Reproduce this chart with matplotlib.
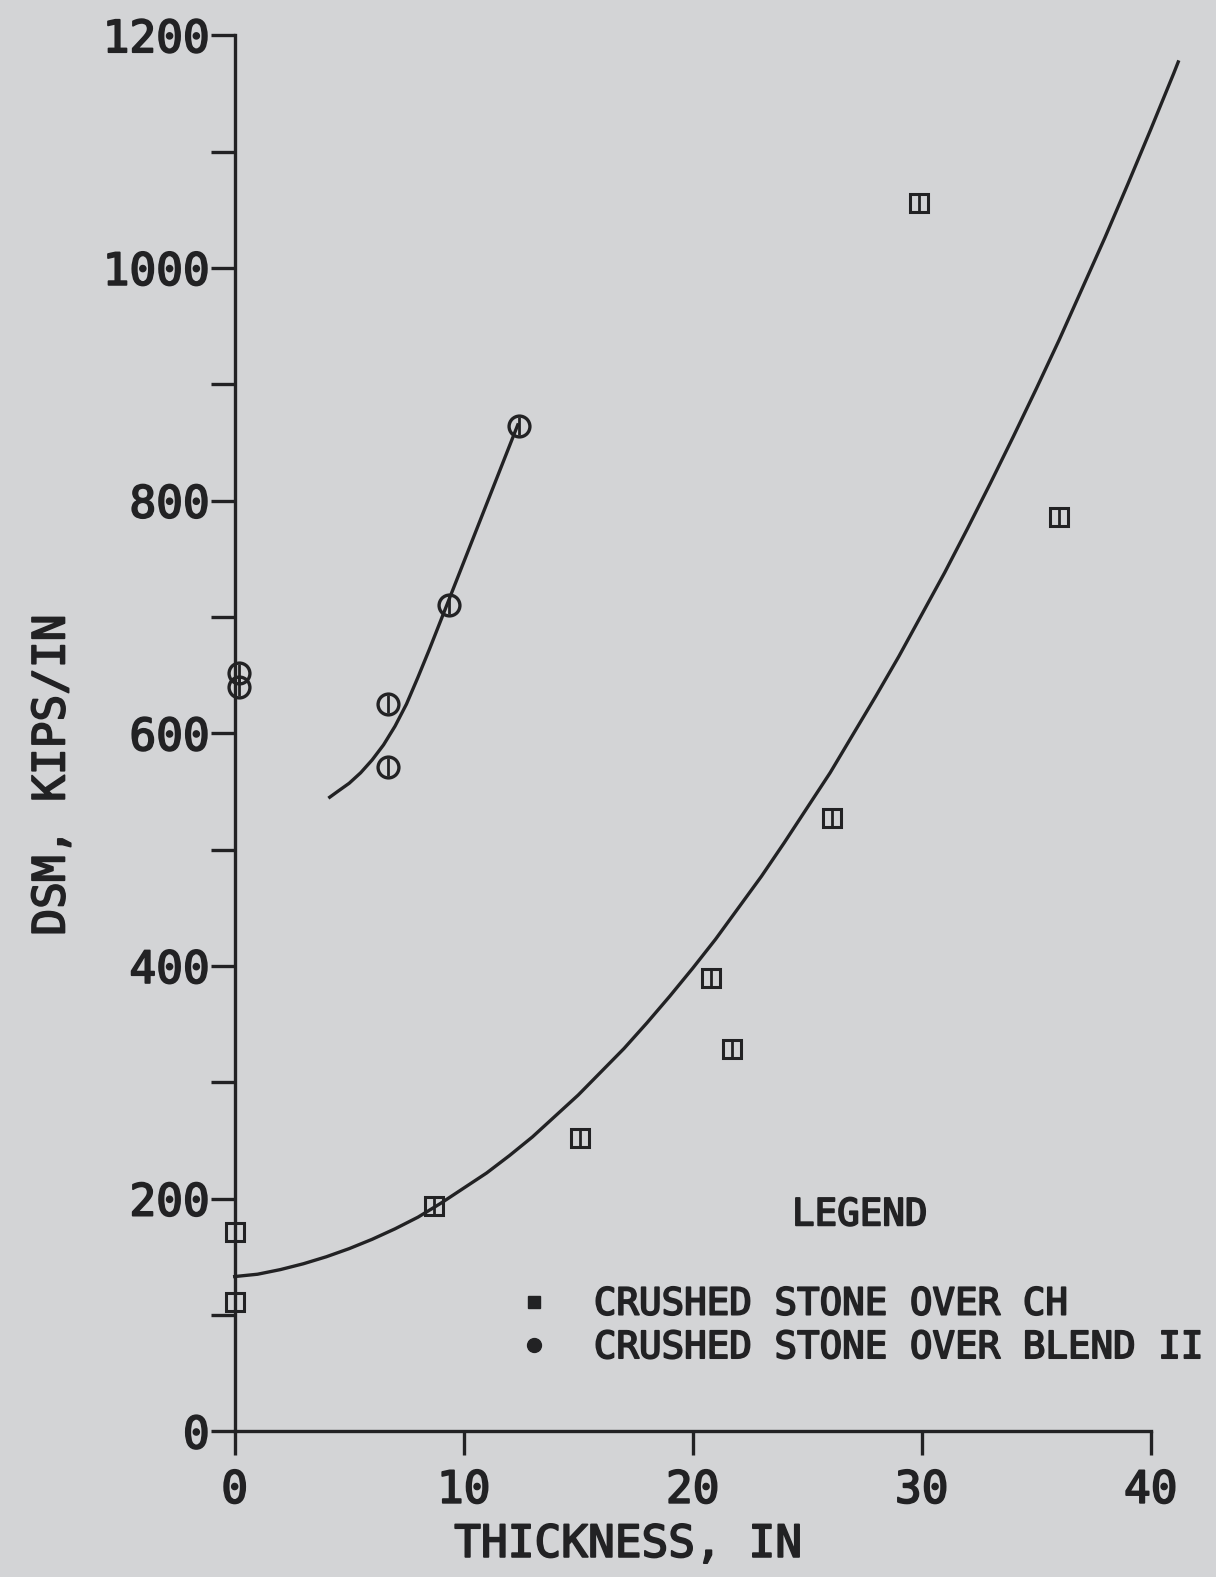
#
# Template for Python program
# Name: DSM vs thickness (scanned plotter chart)
#

import matplotlib
matplotlib.use("Agg")
import matplotlib.pyplot as plt
import matplotlib.patheffects as pe
from matplotlib.lines import Line2D

# 1. Input
ch_x = [0.0, 0.0, 8.7, 15.1, 20.8, 21.7, 26.1, 29.9, 36.0]
ch_y = [171, 111, 194, 252, 390, 329, 527, 1056, 786]

blend_x = [0.2, 0.2, 6.7, 6.7, 9.35, 12.4]
blend_y = [652, 640, 625, 571, 710, 864]

# fitted curves
ch_curve_x = [0, 1, 2, 3, 4, 5, 6, 7, 8, 9, 10, 11, 12, 13, 14, 15, 16, 17,
              18, 19, 20, 21, 22, 23, 24, 25, 26, 27, 28, 29, 30, 31, 32, 33,
              34, 35, 36, 37, 38, 39, 40, 41, 41.2]
ch_curve_y = [133, 135, 139, 144, 150, 157, 165, 174, 184, 196, 209, 222,
              237, 253, 271, 289, 309, 329, 351, 374, 398, 423, 450, 477,
              506, 536, 566, 599, 632, 666, 702, 738, 776, 815, 855, 896,
              938, 982, 1026, 1072, 1119, 1167, 1177]

blend_curve_x = [4.15, 4.5, 5.0, 5.5, 6.0, 6.5, 7.0, 7.5, 8.0, 8.5, 9.0,
                 9.5, 10.0, 10.5, 11.0, 11.5, 12.0, 12.36]
blend_curve_y = [545, 550, 557, 566, 577, 590, 606, 625, 648, 672, 697,
                 722, 747, 772, 797, 822, 847, 865]

x_ticks = [0, 10, 20, 30, 40]
y_ticks = [0, 200, 400, 600, 800, 1000, 1200]
y_minor = [100, 300, 500, 700, 900, 1100]

legend_labels = ["CRUSHED STONE OVER CH", "CRUSHED STONE OVER BLEND II"]

# 2. Process
bg = "#d3d4d6"
ink = "#222224"
mono = ["DejaVu Sans Mono"]
thick = [pe.withStroke(linewidth=1.3, foreground=ink)]

fig = plt.figure(figsize=(12.16, 15.77), dpi=100, facecolor=bg)
ax = fig.add_axes([0.193, 0.0924, 0.791, 0.8853], facecolor=bg)

# 3. Output
ax.plot(ch_curve_x, ch_curve_y, color=ink, lw=2.4, clip_on=False)
ax.plot(blend_curve_x, blend_curve_y, color=ink, lw=2.4, clip_on=False)

ax.plot(ch_x, ch_y, ls="none", marker="s", ms=12.5, mfc="none", mec=ink,
        mew=2.2, clip_on=False, zorder=4)
ax.plot(ch_x, ch_y, ls="none", marker="|", ms=11, mec=ink, mew=2.0,
        clip_on=False, zorder=4)
ax.plot(blend_x, blend_y, ls="none", marker="o", ms=15, mfc="none", mec=ink,
        mew=2.4, clip_on=False, zorder=4)
ax.plot(blend_x, blend_y, ls="none", marker="|", ms=13, mec=ink, mew=2.0,
        clip_on=False, zorder=4)

ax.set_xlim(0, 42)
ax.set_ylim(0, 1200)
ax.set_xticks(x_ticks)
ax.set_yticks(y_ticks)
ax.set_yticks(y_minor, minor=True)

for side in ["top", "right"]:
    ax.spines[side].set_visible(False)
ax.spines["left"].set_bounds(0, 1200)
ax.spines["bottom"].set_bounds(0, 40)
for side in ["left", "bottom"]:
    ax.spines[side].set_linewidth(2.4)
    ax.spines[side].set_color(ink)

ax.tick_params(which="both", direction="out", length=17, width=2.4,
               color=ink, labelcolor=ink, labelsize=32)
ax.tick_params(axis="y", pad=1)
ax.tick_params(axis="x", pad=10)
for lab in ax.get_xticklabels() + ax.get_yticklabels():
    lab.set_family(mono)
    lab.set_path_effects(thick)

ax.set_xlabel("THICKNESS, IN", fontsize=32, family=mono, color=ink)
ax.set_ylabel("DSM, KIPS/IN", fontsize=32, family=mono, color=ink)
ax.xaxis.label.set_path_effects(thick)
ax.yaxis.label.set_path_effects(thick)
ax.xaxis.set_label_coords(0.409, -0.081)
ax.xaxis.label.set_va("center")
ax.yaxis.set_label_coords(-0.19, 0.470)
ax.yaxis.label.set_va("center")

handles = [
    Line2D([], [], ls="none", marker="s", ms=8, color=ink),
    Line2D([], [], ls="none", marker="o", ms=10, color=ink),
]
leg = ax.legend(handles, legend_labels, title="LEGEND\n",
                loc="upper center", bbox_to_anchor=(0.650, 0.181),
                frameon=False, handlelength=1.0, handletextpad=1.1,
                labelspacing=0.2, borderpad=0,
                prop={"family": mono, "size": 27},
                title_fontproperties={"family": mono, "size": 27})
for t in leg.get_texts():
    t.set_color(ink)
    t.set_path_effects(thick)
leg.get_title().set_color(ink)
leg.get_title().set_linespacing(1.35)
leg.get_title().set_path_effects(thick)

plt.savefig("out.png", dpi=100, facecolor=bg)
